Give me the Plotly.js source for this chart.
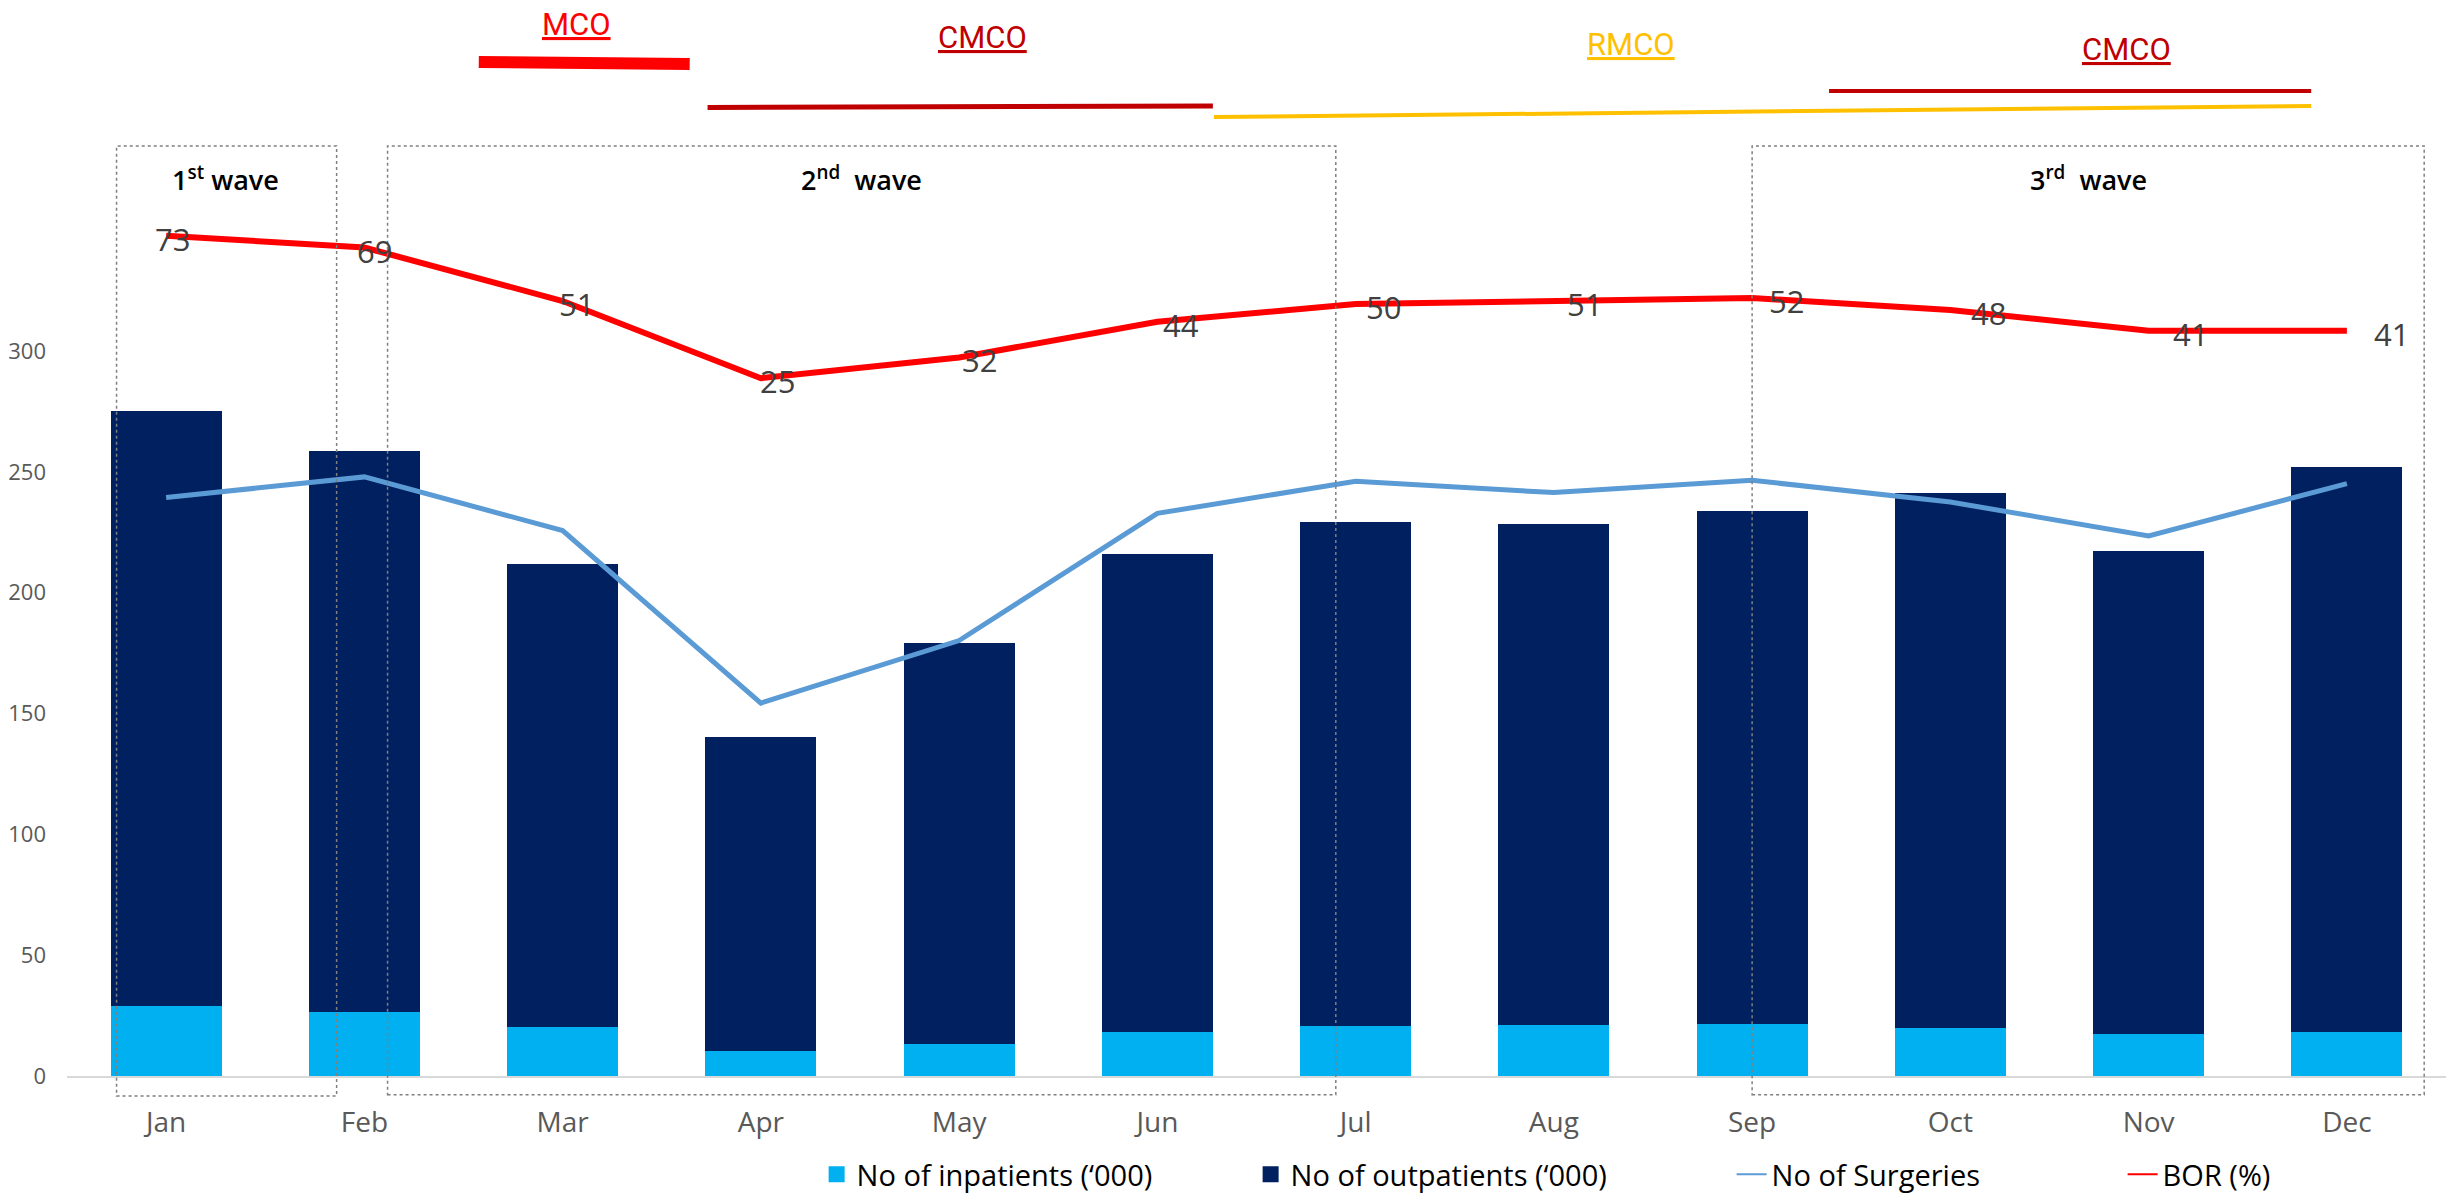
<!DOCTYPE html>
<html>
<head>
<meta charset="utf-8">
<script src="https://cdn.plot.ly/plotly-3.0.1.min.js"></script>
<style>html,body{margin:0;padding:0;background:#fff;}#chart{width:2453px;height:1202px;}</style>
</head>
<body>
<div id="chart"></div>
<script>
const months = ['Jan','Feb','Mar','Apr','May','Jun','Jul','Aug','Sep','Oct','Nov','Dec'];
const inpatients = [29.1, 26.3, 20.4, 10.3, 13.3, 18.2, 20.7, 21.1, 21.6, 19.9, 17.3, 18.3];
const outpatients = [246.1, 232.4, 191.6, 130.1, 165.9, 197.7, 208.7, 207.5, 212.2, 221.5, 200.0, 233.8];
const surgeries = [239.4, 247.9, 225.7, 154.3, 180.2, 232.8, 246.1, 241.4, 246.5, 237.5, 223.5, 245.1];
const bor = [73, 69, 51, 25, 32, 44, 50, 51, 52, 48, 41, 41];
const yTicks = [0, 50, 100, 150, 200, 250, 300];
const seriesNames = ['No of inpatients (‘000)', 'No of outpatients (‘000)', 'No of Surgeries', 'BOR (%)'];
const seriesColors = ['#00B0F0', '#002060', '#5B9BD5', '#FF0000'];

const FONT = 'Open Sans, Noto Sans, sans-serif';

const traces = [
  {type:'bar', name:seriesNames[0], x:months, y:inpatients,
   marker:{color:seriesColors[0]}, yaxis:'y', showlegend:false},
  {type:'bar', name:seriesNames[1], x:months, y:outpatients,
   marker:{color:seriesColors[1]}, yaxis:'y', showlegend:false},
  {type:'scatter', mode:'lines', name:seriesNames[2], x:months, y:surgeries,
   line:{color:seriesColors[2], width:5}, yaxis:'y', showlegend:false},
  {type:'scatter', mode:'lines', name:seriesNames[3], x:months, y:bor,
   line:{color:seriesColors[3], width:6}, yaxis:'y2', showlegend:false},
  // legend entries (same series, legend styling only)
  {type:'scatter', mode:'markers', name:seriesNames[0], x:[null], y:[null],
   marker:{symbol:'square', size:20, color:seriesColors[0]}, legendwidth:389},
  {type:'scatter', mode:'markers', name:seriesNames[1], x:[null], y:[null],
   marker:{symbol:'square', size:20, color:seriesColors[1]}, legendwidth:436},
  {type:'scatter', mode:'lines', name:seriesNames[2], x:[null], y:[null],
   line:{color:seriesColors[2], width:2}, legendwidth:346},
  {type:'scatter', mode:'lines', name:seriesNames[3], x:[null], y:[null],
   line:{color:seriesColors[3], width:2}, yaxis:'y2'}
];

function box(x0, x1, y0, y1){
  return {type:'rect', xref:'x', yref:'paper', x0:x0, x1:x1, y0:y0, y1:y1,
    line:{color:'#7F7F7F', width:1.5, dash:'dot'}, fillcolor:'rgba(0,0,0,0)', layer:'above'};
}
function seg(x0, x1, y0, y1, color, w){
  return {type:'line', xref:'x', yref:'paper', x0:x0, x1:x1, y0:y0, y1:y1,
    line:{color:color, width:w}, layer:'above'};
}
const shapes = [
  box(-0.25, 0.86, -0.0214, 0.9936),
  box(1.117, 5.90, -0.020, 0.9936),
  box(8.0, 11.39, -0.020, 0.9936),
  seg(1.577, 2.641, 1.0833, 1.0812, '#FF0000', 12),
  seg(2.731, 5.280, 1.0347, 1.0363, '#C00000', 5),
  seg(5.285, 10.82, 1.0246, 1.0363, '#FFC000', 4),
  seg(8.388, 10.82, 1.0524, 1.0524, '#C00000', 4)
];

function topText(txt, x, y, color){
  return {text:txt, xref:'x', yref:'paper', x:x, y:y, showarrow:false,
    xanchor:'center', yanchor:'middle',
    font:{family:'Roboto, sans-serif', size:31, color:color, weight:400, lineposition:'under'}};
}
function waveText(txt, x){
  return {text:txt, xref:'x', yref:'paper', x:x, y:0.9594, showarrow:false,
    xanchor:'center', yanchor:'middle',
    font:{family:FONT, size:27, color:'#000000', weight:600}};
}
const annotations = [
  topText('MCO', 2.071, 1.1229, '#FF0000'),
  topText('CMCO', 4.120, 1.110, '#C00000'),
  topText('RMCO', 7.389, 1.1015, '#FFC000'),
  topText('CMCO', 9.886, 1.097, '#C00000'),
  waveText('1<sup>st</sup> wave', 0.30),
  waveText('2<sup>nd</sup>  wave', 3.509),
  waveText('3<sup>rd</sup>  wave', 9.695)
];
// BOR data labels, placed on the BOR axis at each point
bor.forEach(function(v, i){
  annotations.push({text:String(v), xref:'x', yref:'y2', x:months[i], y:v, showarrow:false,
    xanchor:'center', yanchor:'middle', xshift:6.5 + 3.5*i, yshift:-3,
    font:{family:FONT, size:31, color:'#404040'}});
});

const plotH = 1202 - 140 - 126;
const layout = {
  width:2453, height:1202,
  margin:{l:67, r:7, t:140, b:126, pad:0, autoexpand:false},
  paper_bgcolor:'#FFFFFF', plot_bgcolor:'#FFFFFF',
  barmode:'stack', bargap:0.44,
  font:{family:FONT, color:'#595959'},
  showlegend:true,
  legend:{orientation:'h', traceorder:'normal', x:0.3151, xanchor:'left', y:-0.1325, yanchor:'bottom',
    font:{family:FONT, size:29, color:'#000000'}, bgcolor:'rgba(0,0,0,0)', borderwidth:0},
  xaxis:{type:'category', range:[-0.5, 11.5], showline:true, linecolor:'#D9D9D9', linewidth:2,
    showgrid:false, zeroline:false, ticks:'', ticklabelstandoff:20,
    tickfont:{family:FONT, size:28, color:'#595959'}},
  yaxis:{range:[0, plotH/2.4167], tickvals:yTicks, showgrid:false, zeroline:false, showline:false,
    ticks:'', ticklabelstandoff:20, tickfont:{family:FONT, size:22, color:'#595959'}},
  yaxis2:{overlaying:'y', side:'right', range:[-(1076.5-452.6)/2.971, (452.6-140)/2.971],
    showticklabels:false, showgrid:false, zeroline:false, showline:false},
  shapes:shapes,
  annotations:annotations
};

Plotly.newPlot('chart', traces, layout, {displayModeBar:false, staticPlot:true});
</script>
</body>
</html>
